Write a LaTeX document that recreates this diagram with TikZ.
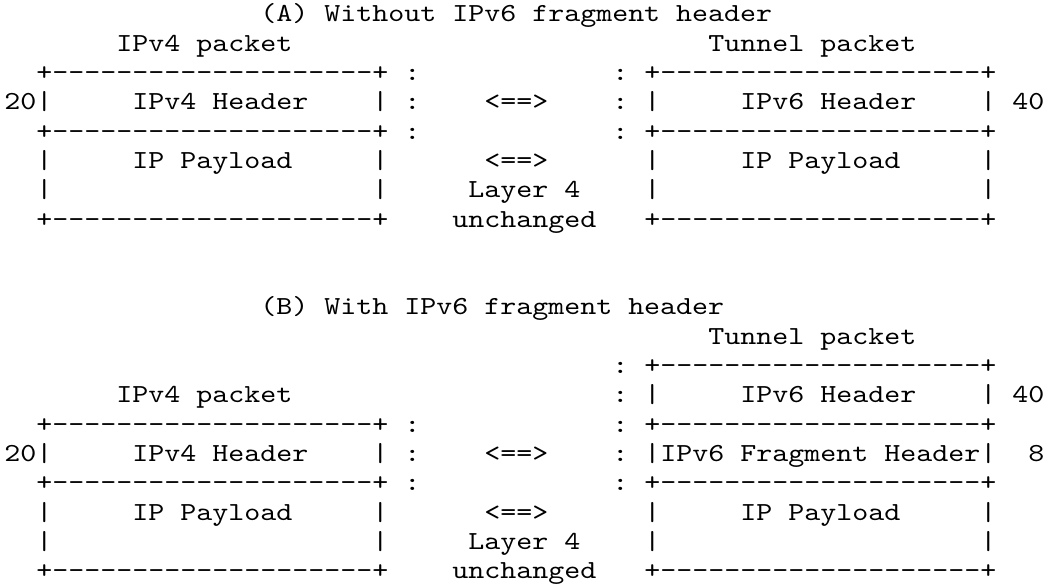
\documentclass[tikz,border=0pt]{standalone}
\usepackage{fontspec}
\setmonofont[Extension=.otf,FakeStretch=1.172]{lmmono10-regular}
\newcommand\edgeline{+--------------------+}
\tikzset{
  asc/.style={anchor=base west, inner sep=0pt, outer sep=0pt, text=black,
    font=\ttfamily\fontsize{26}{29}\selectfont},
}
% name, row, column, text
\newcommand\cell[4]{\node[asc] (#1) at ({4.3+16*#3},{565.3-29.33*#2}) {#4};}
\begin{document}
\begin{tikzpicture}[x=1pt,y=1pt]
\fill[white] (0,0) rectangle (1050,587);
\useasboundingbox (0,0) rectangle (1050,587);
% ---------- (A) ----------
\cell{titleA}{0}{16}{(A) Without IPv6 fragment header}
\cell{aL1}{1}{7}{IPv4 packet}
\cell{aR1}{1}{44}{Tunnel packet}
\cell{aL2}{2}{2}{\edgeline}
\cell{aC2a}{2}{25}{:}
\cell{aC2b}{2}{38}{:}
\cell{aR2}{2}{40}{\edgeline}
\cell{aN3}{3}{0}{20|}
\cell{aL3}{3}{8}{IPv4 Header}
\cell{aL3r}{3}{23}{|}
\cell{aC3a}{3}{25}{:}
\cell{aA3}{3}{30}{<==>}
\cell{aC3b}{3}{38}{:}
\cell{aR3l}{3}{40}{|}
\cell{aR3}{3}{46}{IPv6 Header}
\cell{aR3r}{3}{61}{|}
\cell{aN3r}{3}{63}{40}
\cell{aL4}{4}{2}{\edgeline}
\cell{aC4a}{4}{25}{:}
\cell{aC4b}{4}{38}{:}
\cell{aR4}{4}{40}{\edgeline}
\cell{aL5l}{5}{2}{|}
\cell{aL5}{5}{8}{IP Payload}
\cell{aL5r}{5}{23}{|}
\cell{aA5}{5}{30}{<==>}
\cell{aR5l}{5}{40}{|}
\cell{aR5}{5}{46}{IP Payload}
\cell{aR5r}{5}{61}{|}
\cell{aL6l}{6}{2}{|}
\cell{aL6r}{6}{23}{|}
\cell{aM6}{6}{29}{Layer 4}
\cell{aR6l}{6}{40}{|}
\cell{aR6r}{6}{61}{|}
\cell{aL7}{7}{2}{\edgeline}
\cell{aM7}{7}{28}{unchanged}
\cell{aR7}{7}{40}{\edgeline}
% ---------- (B) ----------
\cell{titleB}{10}{16}{(B) With IPv6 fragment header}
\cell{bR11}{11}{44}{Tunnel packet}
\cell{bC12}{12}{38}{:}
\cell{bR12}{12}{40}{\edgeline}
\cell{bL13}{13}{7}{IPv4 packet}
\cell{bC13}{13}{38}{:}
\cell{bR13l}{13}{40}{|}
\cell{bR13}{13}{46}{IPv6 Header}
\cell{bR13r}{13}{61}{|}
\cell{bN13}{13}{63}{40}
\cell{bL14}{14}{2}{\edgeline}
\cell{bC14a}{14}{25}{:}
\cell{bC14b}{14}{38}{:}
\cell{bR14}{14}{40}{\edgeline}
\cell{bN15}{15}{0}{20|}
\cell{bL15}{15}{8}{IPv4 Header}
\cell{bL15r}{15}{23}{|}
\cell{bC15a}{15}{25}{:}
\cell{bA15}{15}{30}{<==>}
\cell{bC15b}{15}{38}{:}
\cell{bR15}{15}{40}{|IPv6 Fragment Header|}
\cell{bN15r}{15}{64}{8}
\cell{bL16}{16}{2}{\edgeline}
\cell{bC16a}{16}{25}{:}
\cell{bC16b}{16}{38}{:}
\cell{bR16}{16}{40}{\edgeline}
\cell{bL17l}{17}{2}{|}
\cell{bL17}{17}{8}{IP Payload}
\cell{bL17r}{17}{23}{|}
\cell{bA17}{17}{30}{<==>}
\cell{bR17l}{17}{40}{|}
\cell{bR17}{17}{46}{IP Payload}
\cell{bR17r}{17}{61}{|}
\cell{bL18l}{18}{2}{|}
\cell{bL18r}{18}{23}{|}
\cell{bM18}{18}{29}{Layer 4}
\cell{bR18l}{18}{40}{|}
\cell{bR18r}{18}{61}{|}
\cell{bL19}{19}{2}{\edgeline}
\cell{bM19}{19}{28}{unchanged}
\cell{bR19}{19}{40}{\edgeline}
\end{tikzpicture}
\end{document}
